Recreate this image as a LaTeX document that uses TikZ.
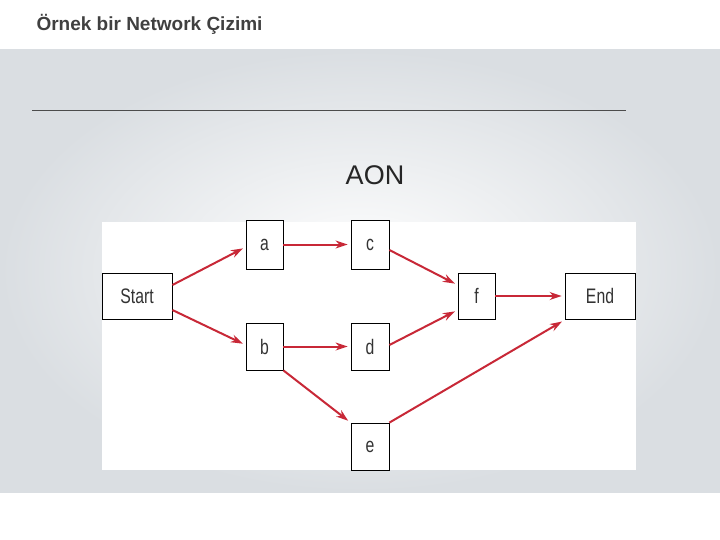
\documentclass[tikz,border=0pt]{standalone}
\usepackage{fontspec}
\setmainfont{Liberation Sans}
\usetikzlibrary{arrows.meta}
\definecolor{arrowred}{RGB}{200,40,55}
\definecolor{bandgray}{RGB}{218,222,226}
\tikzset{
    box/.style={draw=black, line width=0.8pt, fill=white, inner sep=0pt, text=black!80, font=\fontsize{21}{21}\selectfont\addfontfeature{FakeStretch=0.75}},
    link/.style={draw=arrowred, line width=2pt, -{Stealth[length=12pt,width=8pt]}, shorten >=3pt}
}
\begin{document}
\begin{tikzpicture}[x=1pt,y=-1pt]
        \useasboundingbox (0,0) rectangle (720,540);
        \fill [white] (0,0) rectangle (720,540);
        \shade [inner color=white, outer color=bandgray] (0,50) rectangle (720,492);
        \node[anchor=west, font=\bfseries\fontsize{19}{19}\selectfont, text=black!75] (title) at (33,24) {Örnek bir Network Çizimi};
        \draw [black!70, thin] (32,110) -- (626,110);
        \node[font=\fontsize{27}{27}\selectfont, text=black!85] (aon) at (375,175) {AON};
        \fill [white] (102,222) rectangle (636,470);
        \node[box, minimum width=70pt, minimum height=46pt] (start) at (137,296) {Start};
        \node[box, minimum width=37pt, minimum height=49pt] (a) at (264.5,244.5) {a};
        \node[box, minimum width=38pt, minimum height=49pt] (c) at (370,244.5) {c};
        \node[box, minimum width=37pt, minimum height=46pt] (f) at (476.5,296) {f};
        \node[box, minimum width=70pt, minimum height=46pt] (end) at (600,296) {End};
        \node[box, minimum width=37pt, minimum height=47pt] (b) at (264.5,346.5) {b};
        \node[box, minimum width=38pt, minimum height=47pt] (d) at (370,346.5) {d};
        \node[box, minimum width=38pt, minimum height=47pt] (e) at (370,446.5) {e};
        \draw [link] (start.east |- 0,285) -- (a.west |- 0,247);
        \draw [link] (start.east |- 0,310) -- (b.west |- 0,345);
        \draw [link] (a.east) -- (c.west);
        \draw [link] (c.east |- 0,250) -- (f.west |- 0,285);
        \draw [link] (b.east) -- (d.west);
        \draw [link] (d.east |- 0,345) -- (f.west |- 0,310);
        \draw [link] (b.south east) -- (e.north west);
        \draw [link] (e.north east) -- (end.west |- 0,320);
        \draw [link] (f.east) -- (end.west);
    \end{tikzpicture}
\end{document}
